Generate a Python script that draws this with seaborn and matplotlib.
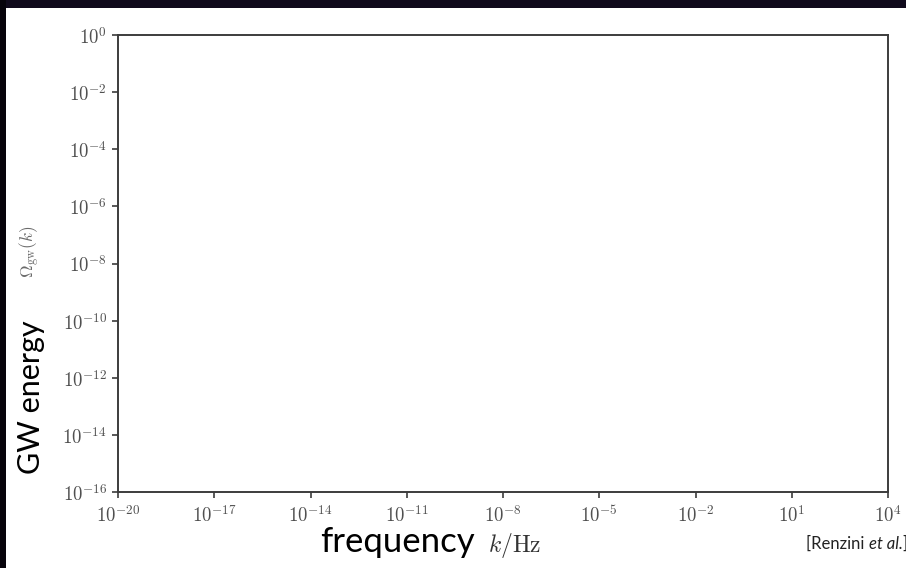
import matplotlib
matplotlib.use("Agg")
import matplotlib.pyplot as plt
import seaborn as sns
import numpy as np
import pandas as pd
from matplotlib.patches import Rectangle

# ---- data (axis ranges and tick labels) ----
x_ticks = [1e-20, 1e-17, 1e-14, 1e-11, 1e-8, 1e-5, 1e-2, 1e1, 1e4]
x_tick_labels = [r"$10^{-20}$", r"$10^{-17}$", r"$10^{-14}$", r"$10^{-11}$",
                 r"$10^{-8}$", r"$10^{-5}$", r"$10^{-2}$", r"$10^{1}$", r"$10^{4}$"]
y_ticks = [1e-16, 1e-14, 1e-12, 1e-10, 1e-8, 1e-6, 1e-4, 1e-2, 1e0]
y_tick_labels = [r"$10^{-16}$", r"$10^{-14}$", r"$10^{-12}$", r"$10^{-10}$",
                 r"$10^{-8}$", r"$10^{-6}$", r"$10^{-4}$", r"$10^{-2}$", r"$10^{0}$"]
x_limits = [1e-20, 1e4]
y_limits = [1e-16, 1e0]

sns.set_style("ticks")
plt.rcParams["mathtext.fontset"] = "cm"
plt.rcParams["font.family"] = ["Lato", "DejaVu Sans"]

W, H = 906, 568
fig = plt.figure(figsize=(W / 100, H / 100), dpi=100)
fig.patch.set_facecolor("white")

# dark slide frame bands
fig.patches.append(Rectangle((0, 1 - 8 / H), 1, 8 / H, transform=fig.transFigure,
                             facecolor="#100a1c", edgecolor="none", zorder=0))
fig.patches.append(Rectangle((0, 0), 6 / W, 1, transform=fig.transFigure,
                             facecolor="#06030b", edgecolor="none", zorder=0))

left, right, top, bottom = 118, 888, 35, 492
ax = fig.add_axes([left / W, 1 - bottom / H, (right - left) / W, (bottom - top) / H])
ax.set_facecolor("white")

empty = pd.DataFrame({"k": pd.Series([], dtype=float), "omega": pd.Series([], dtype=float)})
sns.lineplot(data=empty, x="k", y="omega", ax=ax)

ax.set_xscale("log")
ax.set_yscale("log")
ax.set_xlim(x_limits)
ax.set_ylim(y_limits)
ax.set_xticks(x_ticks)
ax.set_xticklabels(x_tick_labels)
ax.set_yticks(y_ticks)
ax.set_yticklabels(y_tick_labels)
ax.minorticks_off()
ax.set_xlabel("")
ax.set_ylabel("")
for s in ax.spines.values():
    s.set_color("#3c3c3c")
    s.set_linewidth(1.4)
ax.tick_params(axis="both", direction="out", length=4, width=1.2, color="#3c3c3c",
               labelsize=13.5, labelcolor="#505050", pad=4)
ax.tick_params(axis="x", pad=5)

# axis annotations
fig.text(30 / W, 1 - 252 / H, r"$\Omega_{\rm gw}(k)$", rotation=90, ha="center",
         va="center", fontsize=12.5, color="#6a6a6a")
fig.text(31 / W, 1 - 397 / H, "GW energy", rotation=90, ha="center", va="center",
         fontsize=22, color="black")
fig.text(475 / W, 1 - 552 / H, "frequency", ha="right", va="baseline",
         fontsize=25, color="black")
fig.text(488 / W, 1 - 552 / H, r"$k/\mathrm{Hz}$", ha="left", va="baseline",
         fontsize=17, color="#333333")

# citation, pieced together so "et al." is italic (runs off the right edge)
fig.canvas.draw()
r = fig.canvas.get_renderer()
x0 = 806
yb = 1 - 549 / H
t1 = fig.text(x0 / W, yb, "[Renzini ", ha="left", va="baseline",
              fontsize=12, color="#222222")
bb = t1.get_window_extent(renderer=r)
t2 = fig.text(bb.x1 / W, yb, "et al.", ha="left", va="baseline",
              fontsize=12, color="#222222", style="italic")
bb = t2.get_window_extent(renderer=r)
fig.text(bb.x1 / W, yb, "]", ha="left", va="baseline",
         fontsize=12, color="#222222")

fig.savefig("out.png", dpi=100, facecolor=fig.get_facecolor())
